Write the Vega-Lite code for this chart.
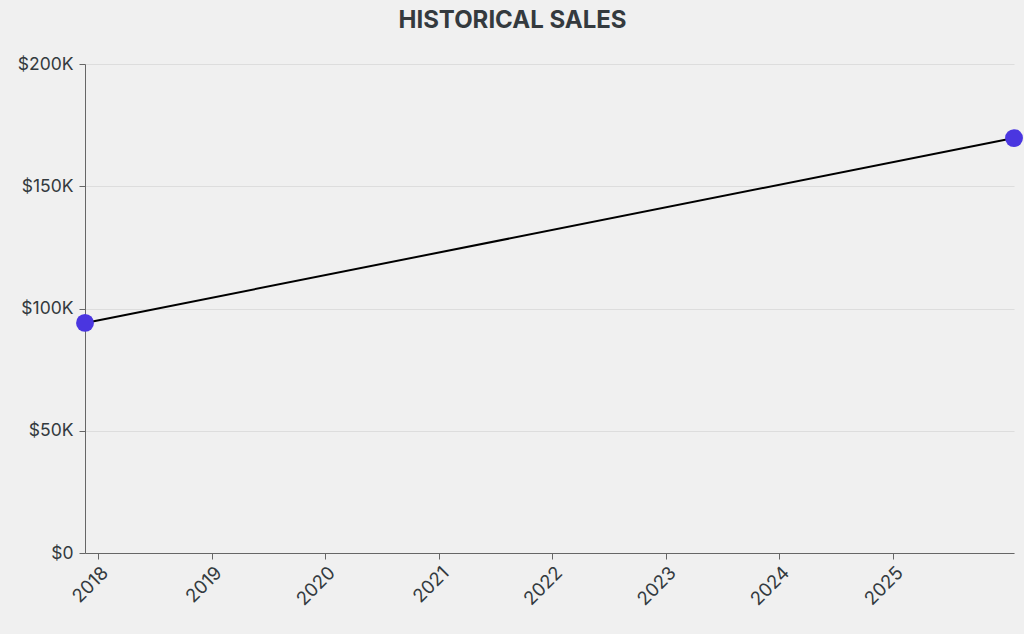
{
  "$schema": "https://vega.github.io/schema/vega-lite/v6.json",
  "width": 929,
  "height": 489,
  "autosize": {"type": "none"},
  "padding": {"left": 85, "top": 64, "right": 10, "bottom": 81},
  "background": "#f0f0f0",
  "title": {
    "text": "HISTORICAL SALES",
    "font": "Inter",
    "fontSize": 24,
    "fontWeight": "bold",
    "color": "#343a3e",
    "anchor": "middle",
    "offset": 22,
    "dx": -37
  },
  "config": {
    "view": {"stroke": null},
    "axis": {
      "labelFont": "Inter",
      "labelFontSize": 17.5,
      "labelColor": "#333a3e",
      "domainColor": "#666666",
      "tickColor": "#666666",
      "gridColor": "#dddddd",
      "title": null
    }
  },
  "data": {
    "values": [
      {"date": "2017-11-19", "sales": 94100},
      {"date": "2026-01-25", "sales": 169700}
    ]
  },
  "encoding": {
    "x": {
      "field": "date",
      "type": "temporal",
      "scale": {"nice": false},
      "axis": {
        "format": "%Y",
        "values": [
          {"year": 2018}, {"year": 2019}, {"year": 2020}, {"year": 2021},
          {"year": 2022}, {"year": 2023}, {"year": 2024}, {"year": 2025}
        ],
        "labelAngle": -45,
        "labelFontSize": 18.5,
        "grid": false,
        "tickSize": 6,
        "labelPadding": 4
      }
    },
    "y": {
      "field": "sales",
      "type": "quantitative",
      "scale": {"domain": [0, 200000]},
      "axis": {
        "values": [0, 50000, 100000, 150000, 200000],
        "labelExpr": "datum.value == 0 ? '$0' : '$' + (datum.value / 1000) + 'K'",
        "grid": true,
        "tickSize": 6,
        "labelPadding": 6
      }
    }
  },
  "layer": [
    {"mark": {"type": "line", "color": "#000000", "strokeWidth": 2}},
    {"mark": {"type": "circle", "color": "#4a36e0", "opacity": 1, "size": 320, "clip": false}}
  ]
}
